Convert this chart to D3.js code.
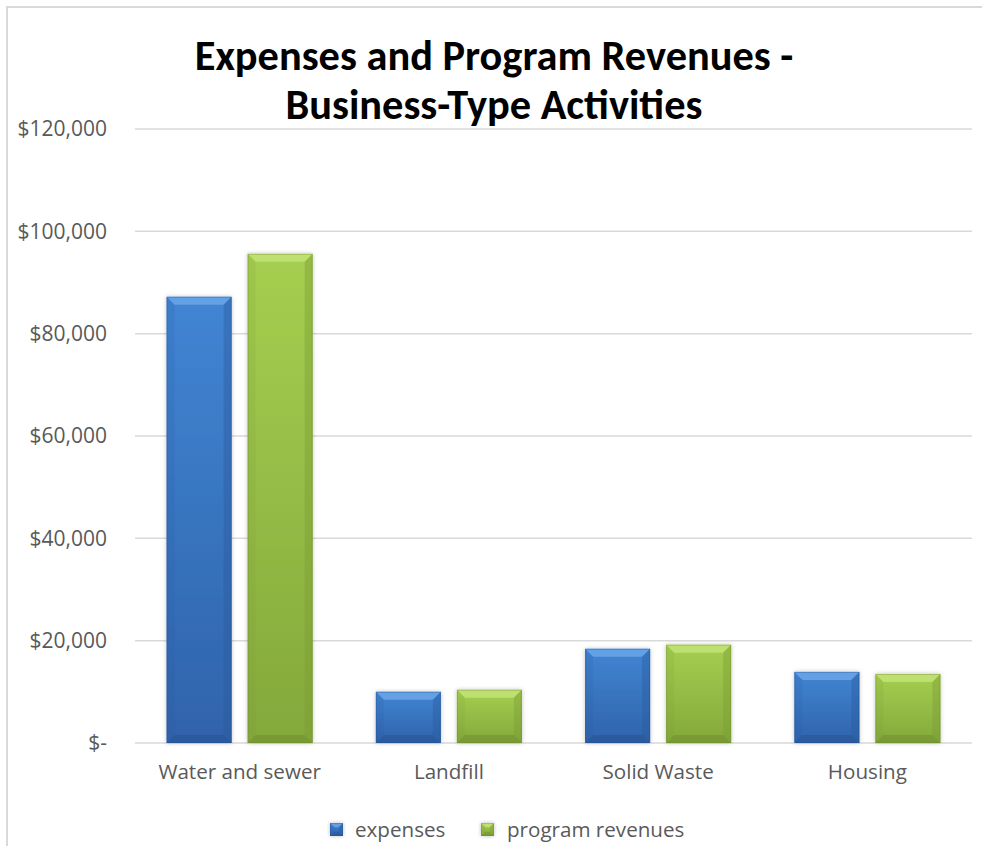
<!DOCTYPE html>
<html>
<head>
<meta charset="utf-8">
<script src="https://cdn.jsdelivr.net/npm/d3@7"></script>
<style>
  html, body { margin: 0; padding: 0; background: #ffffff; }
  svg { display: block; }
  text { font-family: "Open Sans", "Noto Sans", sans-serif; }
</style>
</head>
<body>
<svg id="chart" width="982" height="846"></svg>
<script>
// Chart data
const categories = ["Water and sewer", "Landfill", "Solid Waste", "Housing"];
const seriesNames = ["expenses", "program revenues"];
const expenses = [87200, 10000, 18400, 13900];
const programRevenues = [95600, 10400, 19200, 13500];
const yTicks = [0, 20000, 40000, 60000, 80000, 100000, 120000];
const titleLines = ["Expenses and Program Revenues -", "Business-Type Activities"];

const seriesValues = [expenses, programRevenues];
const palette = {
  "expenses": { top: "#6aa6e8", body1: "#4185d3", body2: "#2f63aa", side: "#2a5a9e", bottom: "#24508d" },
  "program revenues": { top: "#c3e377", body1: "#a5cf50", body2: "#84a83b", side: "#7a9c34", bottom: "#6a882c" }
};

const svg = d3.select("#chart");
const W = 982, H = 846;
const plot = { left: 135, right: 972, top: 129, bottom: 743 };
const labelFont = "'Open Sans', 'Noto Sans', sans-serif";

// Outer frame
svg.append("path")
  .attr("d", `M7,${H} L7,7 L${W},7`)
  .attr("fill", "none")
  .attr("stroke", "#d9d9d9")
  .attr("stroke-width", 2);

const defs = svg.append("defs");
const shadow = defs.append("filter").attr("id", "barShadow")
  .attr("x", "-20%").attr("y", "-20%").attr("width", "140%").attr("height", "140%");
shadow.append("feDropShadow")
  .attr("dx", 0).attr("dy", 0).attr("stdDeviation", 2)
  .attr("flood-color", "#000").attr("flood-opacity", 0.25);

seriesNames.forEach((s, i) => {
  const g = defs.append("linearGradient").attr("id", "grad" + i)
    .attr("x1", 0).attr("y1", 0).attr("x2", 0).attr("y2", 1);
  g.append("stop").attr("offset", "0%").attr("stop-color", palette[s].body1);
  g.append("stop").attr("offset", "100%").attr("stop-color", palette[s].body2);
});

// Scales
const y = d3.scaleLinear().domain([0, 120000]).range([plot.bottom, plot.top]);
const x0 = d3.scaleBand().domain(categories).range([plot.left, plot.right]).padding(0);
const groupPad = 31.6;
const x1 = d3.scaleBand().domain(seriesNames)
  .range([groupPad, x0.bandwidth() - groupPad])
  .paddingInner(0.1975).paddingOuter(0);

// Gridlines
svg.append("g")
  .selectAll("line")
  .data(yTicks)
  .join("line")
  .attr("x1", plot.left).attr("x2", plot.right)
  .attr("y1", d => y(d)).attr("y2", d => y(d))
  .attr("stroke", "#d9d9d9").attr("stroke-width", 1.5);

// Y axis labels
const fmt = d3.format(",");
const yAxis = d3.axisLeft(y).tickValues(yTicks).tickSize(0).tickPadding(0)
  .tickFormat(d => d === 0 ? "$-" : "$" + fmt(d));
const yg = svg.append("g").attr("transform", `translate(107,0)`).call(yAxis);
yg.select(".domain").remove();
yg.selectAll("text")
  .attr("fill", "#595959")
  .style("font-size", "21px")
  .style("font-family", labelFont);

// Category axis labels
const xAxis = d3.axisBottom(x0).tickSize(0).tickPadding(0);
const xg = svg.append("g").attr("transform", `translate(0,${plot.bottom + 21})`).call(xAxis);
xg.select(".domain").remove();
xg.selectAll("text")
  .attr("fill", "#595959")
  .attr("dy", "0.71em")
  .style("font-size", "20.6px")
  .style("font-family", labelFont);

// Beveled bar drawing
function bevelBar(g, x, yTop, w, h, s, gi) {
  const c = palette[s];
  const b = Math.min(8, h / 3);
  const grp = g.append("g");
  grp.append("rect")
    .attr("x", x).attr("y", yTop).attr("width", w).attr("height", h)
    .attr("fill", `url(#grad${gi})`)
    .attr("filter", "url(#barShadow)");
  // top bevel
  grp.append("path")
    .attr("d", `M${x},${yTop} L${x + w},${yTop} L${x + w - b},${yTop + b} L${x + b},${yTop + b} Z`)
    .attr("fill", c.top).attr("opacity", 0.85);
  // left bevel
  grp.append("path")
    .attr("d", `M${x},${yTop} L${x + b},${yTop + b} L${x + b},${yTop + h - b} L${x},${yTop + h} Z`)
    .attr("fill", c.side).attr("opacity", 0.15);
  // right bevel
  grp.append("path")
    .attr("d", `M${x + w},${yTop} L${x + w - b},${yTop + b} L${x + w - b},${yTop + h - b} L${x + w},${yTop + h} Z`)
    .attr("fill", c.side).attr("opacity", 0.4);
  // bottom bevel
  grp.append("path")
    .attr("d", `M${x},${yTop + h} L${x + b},${yTop + h - b} L${x + w - b},${yTop + h - b} L${x + w},${yTop + h} Z`)
    .attr("fill", c.bottom).attr("opacity", 0.45);
  // thin edge
  grp.append("rect")
    .attr("x", x + 0.5).attr("y", yTop + 0.5).attr("width", w - 1).attr("height", h - 1)
    .attr("fill", "none").attr("stroke", c.bottom).attr("stroke-opacity", 0.35);
}

// Bars
const barsG = svg.append("g");
categories.forEach((cat, ci) => {
  seriesNames.forEach((s, si) => {
    const v = seriesValues[si][ci];
    const xx = x0(cat) + x1(s);
    const yy = y(v);
    bevelBar(barsG, xx, yy, x1.bandwidth(), y(0) - yy, s, si);
  });
});

// Title
svg.append("g").selectAll("text")
  .data(titleLines)
  .join("text")
  .attr("x", 494)
  .attr("y", (d, i) => 70 + i * 49)
  .attr("text-anchor", "middle")
  .attr("fill", "#000")
  .style("font-family", "Carlito, Calibri, Lato, sans-serif")
  .style("font-size", "42.4px")
  .style("font-weight", "bold")
  .text(d => d);

// Legend
const legend = svg.append("g");
const legendItems = [
  { name: "expenses", mx: 330, tx: 355 },
  { name: "program revenues", mx: 481, tx: 507 }
];
legendItems.forEach((it, i) => {
  bevelBar(legend, it.mx, 823, 13, 13, it.name, i);
  legend.append("text")
    .attr("x", it.tx).attr("y", 830)
    .attr("dy", "0.35em")
    .attr("fill", "#595959")
    .style("font-size", "20.6px")
    .style("font-family", labelFont)
    .text(it.name);
});
</script>
</body>
</html>
